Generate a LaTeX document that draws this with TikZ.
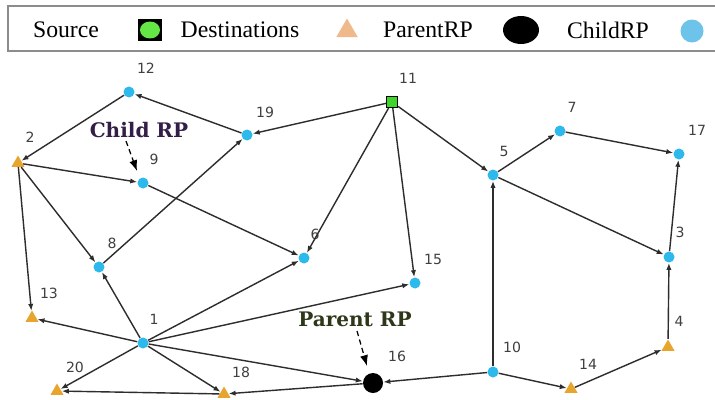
\documentclass[tikz,border=0pt]{standalone}
\usepackage{fontspec}
\setmainfont{Liberation Serif}
\newfontfamily\numfont{DejaVu Sans}
\newfontfamily\rpfont{DejaVu Serif}
\usetikzlibrary{shapes.geometric, arrows.meta}
\definecolor{childBlue}{RGB}{45,185,235}
\definecolor{legBlue}{RGB}{110,195,235}
\definecolor{destOrange}{RGB}{232,165,45}
\definecolor{legPeach}{RGB}{240,185,140}
\definecolor{srcGreen}{RGB}{60,215,40}
\definecolor{legGreen}{RGB}{100,230,70}
\definecolor{edgeGray}{RGB}{45,45,45}
\definecolor{childText}{RGB}{50,30,70}
\definecolor{parentText}{RGB}{45,55,25}

\begin{document}
\begin{tikzpicture}[
    x=0.02cm, y=-0.02cm,
    child/.style={circle, fill=childBlue, minimum size=0.22cm, inner sep=0},
    dest/.style={regular polygon, regular polygon sides=3, fill=destOrange, minimum size=0.3cm, inner sep=0},
    src/.style={rectangle, draw=black, fill=srcGreen, minimum size=0.22cm, inner sep=0, line width=0.6pt},
    parent/.style={circle, fill=black, minimum size=0.4cm, inner sep=0},
    num/.style={font=\numfont\fontsize{8}{9}\selectfont, text=black!75, inner sep=0},
    rptext/.style={font=\rpfont\bfseries\fontsize{11.4}{13}\selectfont, inner sep=0},
    legtext/.style={font=\fontsize{13.5}{15}\selectfont, inner sep=0},
    link/.style={-{Latex[length=4pt,width=3pt]}, draw=edgeGray, line width=0.8pt},
    >=Latex
]
\useasboundingbox (0,0) rectangle (715,399);
\fill[white] (0,0) rectangle (715,399);

% legend
\draw[black!45, line width=1pt] (8,6) rectangle (730,51);
\node[legtext] (lsrc) at (66,30) {Source};
\node[rectangle, fill=black, minimum width=0.48cm, minimum height=0.44cm, inner sep=0] (lgreen) at (150,30) {};
\node[ellipse, fill=legGreen, minimum width=0.4cm, minimum height=0.34cm, inner sep=0] (lgreendot) at (lgreen) {};
\node[legtext] (ldest) at (240,30) {Destinations};
\node[regular polygon, regular polygon sides=3, fill=legPeach, minimum size=0.5cm, inner sep=0] (ltri) at (347,31) {};
\node[legtext] (lparent) at (428,30) {ParentRP};
\node[ellipse, fill=black, minimum width=0.72cm, minimum height=0.56cm, inner sep=0] (lblack) at (521,30) {};
\node[legtext] (lchild) at (608,30) {ChildRP};
\node[circle, fill=legBlue, minimum size=0.46cm, inner sep=0] (lblue) at (692,31) {};

% nodes
\node[child] (n12) at (129,92) {};
\node[child] (n19) at (247,135) {};
\node[src] (n11) at (392,102) {};
\node[dest] (n2) at (18,163) {};
\node[child] (n9) at (143,183) {};
\node[child] (n7) at (560,131) {};
\node[child] (n17) at (679,154) {};
\node[child] (n5) at (493,175) {};
\node[child] (n8) at (99,267) {};
\node[child] (n6) at (304,258) {};
\node[child] (n15) at (415,283) {};
\node[child] (n3) at (669,257) {};
\node[dest] (n13) at (32,318) {};
\node[child] (n1) at (143,343) {};
\node[dest] (n4) at (668,347) {};
\node[parent] (n16) at (373,383) {};
\node[child] (n10) at (493,372) {};
\node[dest] (n14) at (571,389) {};
\node[dest] (n20) at (57,391) {};
\node[dest] (n18) at (224,394) {};

% node labels
\node[num] (t12) at (146,68) {12};
\node[num] (t19) at (265,112) {19};
\node[num] (t11) at (408,78) {11};
\node[num] (t2) at (30,137) {2};
\node[num] (t9) at (154,159) {9};
\node[num] (t7) at (572,107) {7};
\node[num] (t17) at (697,130) {17};
\node[num] (t5) at (504,151) {5};
\node[num] (t8) at (112,243) {8};
\node[num] (t6) at (315,234) {6};
\node[num] (t15) at (433,259) {15};
\node[num] (t3) at (680,232) {3};
\node[num] (t13) at (49,293) {13};
\node[num] (t1) at (154,319) {1};
\node[num] (t4) at (679,321) {4};
\node[num] (t16) at (397,356) {16};
\node[num] (t10) at (512,347) {10};
\node[num] (t14) at (588,364) {14};
\node[num] (t20) at (75,367) {20};
\node[num] (t18) at (241,372) {18};

% annotations
\node[rptext, text=childText] (childrp) at (139,130) {Child RP};
\node[rptext, text=parentText] (parentrp) at (355,319) {Parent RP};
\coordinate (childtip) at (137,171);
\coordinate (parenttip) at (367,366);
\draw[->, densely dashed, line width=0.7pt] (126,141) -- (childtip);
\draw[->, densely dashed, line width=0.7pt] (357,331) -- (parenttip);

% links
\draw[link] (n11) -- (n19);
\draw[link] (n19) -- (n12);
\draw[link] (n12) -- (n2);
\draw[link] (n2) -- (n9);
\draw[link] (n9) -- (n6);
\draw[link] (n2) -- (n8);
\draw[link] (n2) -- (n13);
\draw[link] (n8) -- (n19);
\draw[link] (n1) -- (n8);
\draw[link] (n11) -- (n6);
\draw[link] (n1) -- (n6);
\draw[link] (n11) -- (n15);
\draw[link] (n1) -- (n15);
\draw[link] (n11) -- (n5);
\draw[link] (n5) -- (n7);
\draw[link] (n7) -- (n17);
\draw[link] (n3) -- (n17);
\draw[link] (n5) -- (n3);
\draw[link] (n4) -- (n3);
\draw[link] (n14) -- (n4);
\draw[link] (n10) -- (n14);
\draw[link] (n10) -- (n5);
\draw[link] (n10) -- (n16);
\draw[link] (n16) -- (n18);
\draw[link] (n1) -- (n16);
\draw[link] (n1) -- (n13);
\draw[link] (n1) -- (n20);
\draw[link] (n1) -- (n18);
\draw[link] (n18) -- (n20);
\end{tikzpicture}
\end{document}
